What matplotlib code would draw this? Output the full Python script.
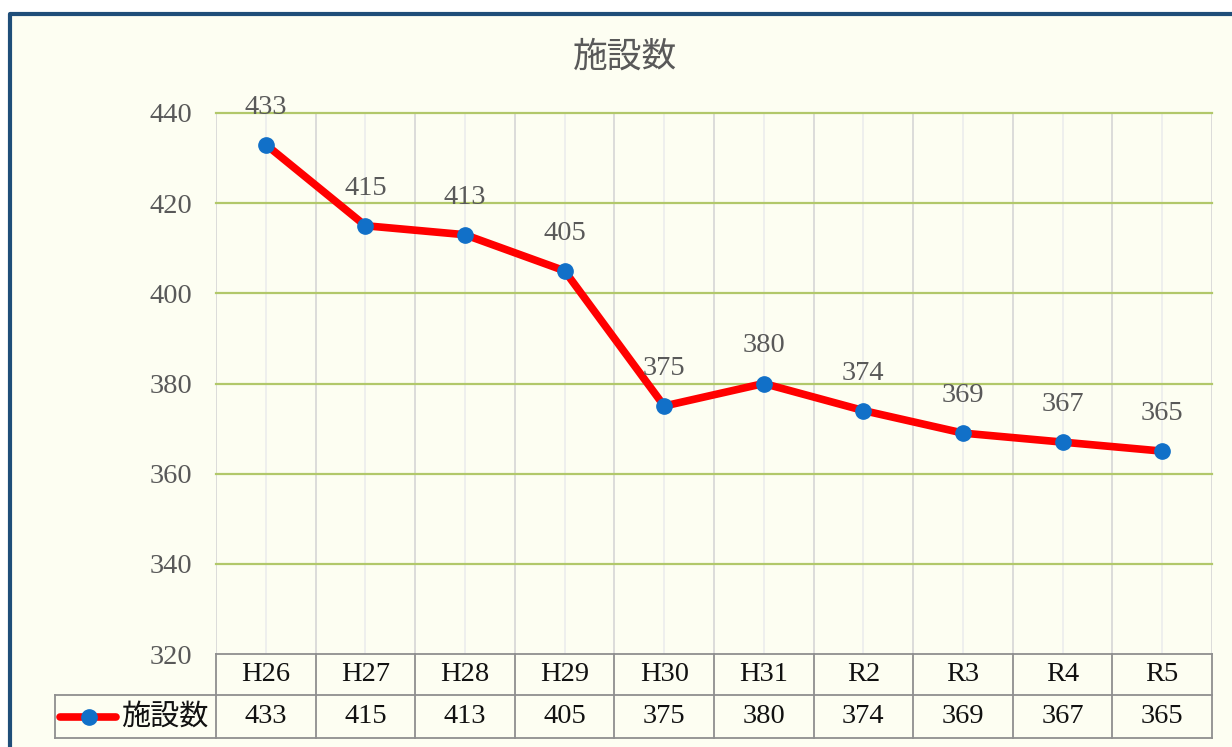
import matplotlib.pyplot as plt
from matplotlib.patches import Rectangle
from matplotlib.lines import Line2D
import matplotlib.transforms as mtransforms

categories = ['H26', 'H27', 'H28', 'H29', 'H30', 'H31', 'R2', 'R3', 'R4', 'R5']
counts = [433, 415, 413, 405, 375, 380, 374, 369, 367, 365]
series_name = '施設数'
yticks = [320, 340, 360, 380, 400, 420, 440]

W, H = 1232, 747
bg = '#FDFEF2'
num_font = ['Liberation Serif', 'Noto Sans CJK JP']
cjk_font = ['Noto Sans CJK JP', 'DejaVu Sans']
fs = 20.5

fig = plt.figure(figsize=(W / 100, H / 100), dpi=100, facecolor='white')

# chart area with dark blue frame on top/left
fig.patches.append(Rectangle((10 / W, 0), 1 - 10 / W, 1 - 14 / H, transform=fig.transFigure,
                             facecolor=bg, edgecolor='none', zorder=-10))
fig.lines.append(Line2D([10 / W, 10 / W, 1], [0, 1 - 14 / H, 1 - 14 / H], transform=fig.transFigure,
                        color='#1F4E79', linewidth=3, solid_capstyle='butt', zorder=1))

left, right, top, bottom = 216, 1212, 113, 654
ax = fig.add_axes([left / W, 1 - bottom / H, (right - left) / W, (bottom - top) / H])
ax.set_facecolor('none')
n = len(categories)
ax.set_xlim(-0.5, n - 0.5)
ax.set_ylim(320, 440)

# grid
for y in yticks[1:]:
    ax.axhline(y, color='#B2C86A', linewidth=1.6, zorder=1, clip_on=False)
for i in range(n):
    ax.axvline(i, color='#ECECEC', linewidth=1.2, zorder=0.5)
for i in range(n + 1):
    ax.axvline(i - 0.5, color='#D6D6D6', linewidth=1.2, zorder=0.6)

ax.plot(range(n), counts, color='#FF0000', linewidth=5.5, zorder=3, solid_capstyle='round')
ax.plot(range(n), counts, linestyle='none', marker='o', markersize=11,
        markerfacecolor='#1170C8', markeredgecolor='#1170C8', zorder=4)

for i, v in enumerate(counts):
    ax.annotate(str(v), (i, v), xytext=(0, 27), textcoords='offset points', ha='center',
                va='center', fontsize=fs, family=num_font, color='#595959', zorder=5)

for s in ax.spines.values():
    s.set_visible(False)
ax.set_xticks([])
ax.set_yticks(yticks)
ax.tick_params(axis='y', length=0, pad=17, labelsize=fs, labelcolor='#595959')
for lab in ax.get_yticklabels():
    lab.set_family(num_font)

# data table
trans = mtransforms.blended_transform_factory(ax.transData, ax.transAxes)
ah = bottom - top
r1 = -41 / ah
r2 = -84 / ah
xl = (55 - left) / ((right - left) / n) - 0.5
lc = '#8F8F8F'
lw = 1.3
ax.plot([-0.5, n - 0.5], [0, 0], color=lc, lw=lw, transform=trans, clip_on=False)
ax.plot([xl, n - 0.5], [r1, r1], color=lc, lw=lw, transform=trans, clip_on=False)
ax.plot([xl, n - 0.5], [r2, r2], color=lc, lw=lw, transform=trans, clip_on=False)
ax.plot([xl, xl], [r1, r2], color=lc, lw=lw, transform=trans, clip_on=False)
for i in range(n + 1):
    ax.plot([i - 0.5, i - 0.5], [0, r2], color=lc, lw=lw, transform=trans, clip_on=False)
for i, (c, v) in enumerate(zip(categories, counts)):
    ax.text(i, r1 / 2, c, ha='center', va='center', fontsize=fs, family=num_font,
            color='#111111', transform=trans)
    ax.text(i, (r1 + r2) / 2, str(v), ha='center', va='center', fontsize=fs, family=num_font,
            color='#111111', transform=trans)

# legend key inside table
ym = (r1 + r2) / 2
cw = (right - left) / n
ax.plot([(60 - left) / cw - 0.5, (116 - left) / cw - 0.5], [ym, ym], color='#FF0000', lw=5.5,
        transform=trans, clip_on=False, solid_capstyle='round')
ax.plot([(89 - left) / cw - 0.5], [ym], marker='o', markersize=11, color='#1170C8',
        transform=trans, clip_on=False)
ax.text((121 - left) / cw - 0.5, ym, series_name, ha='left', va='center', fontsize=21,
        family=cjk_font, color='#111111', transform=trans)

fig.text(625 / W, 1 - 57 / H, series_name, ha='center', va='center', fontsize=25,
         family=cjk_font, color='#595959')

fig.savefig('out.png', dpi=100, facecolor='white')
